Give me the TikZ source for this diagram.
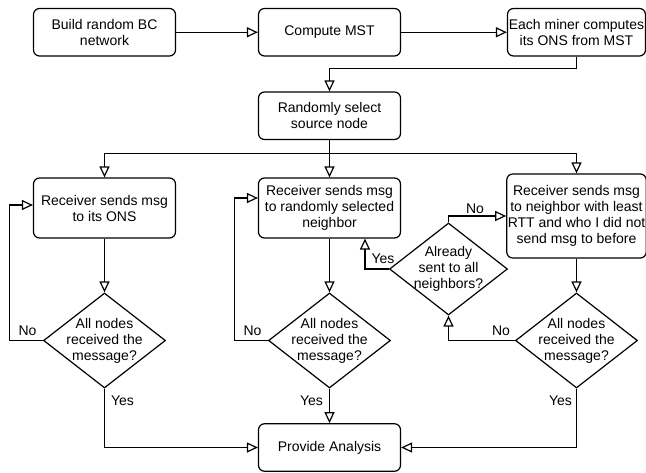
\documentclass[tikz,border=0pt]{standalone}
\usepackage{fontspec}
\setmainfont{Liberation Sans}
\usetikzlibrary{arrows.meta,shapes.geometric}

\begin{document}
\begin{tikzpicture}[x=1pt,y=-1pt,
  every node/.style={font=\fontsize{14}{16}\selectfont},
  stepbox/.style={draw, rounded corners=6pt, line width=1.2pt, align=center,
    inner sep=1pt, minimum width=142pt, minimum height=47.5pt},
  decision/.style={draw, diamond, line width=1.2pt, inner sep=0pt,
    minimum width=122pt, minimum height=95pt},
  arr/.style={line width=1.2pt, -{Triangle[open,length=11pt,width=10pt]}}]

\useasboundingbox (0,0) rectangle (646,472);

% process steps
\node[stepbox] (b1) at (104.5,32.25) {Build random BC\\network};
\node[stepbox] (b2) at (329.5,32.25) {Compute MST};
\node[stepbox, minimum width=138pt] (b3) at (576.5,32.25) {Each miner computes\\its ONS from MST};
\node[stepbox] (rs) at (329.5,115.75) {Randomly select\\source node};
\node[stepbox, minimum height=60pt] (l) at (104.5,208) {Receiver sends msg\\to its ONS};
\node[stepbox, minimum height=60pt] (m) at (329.5,208) {Receiver sends msg\\to randomly selected\\neighbor};
\node[stepbox, minimum width=138pt, minimum height=84pt] (r) at (576.5,216)
  {Receiver sends msg\\to neighbor with least\\RTT and who I did not\\send msg to before};
\node[stepbox] (pa) at (329.5,447.5) {Provide Analysis};

% decisions
\node[decision, label={[align=center]center:{All nodes\\received the\\message?}}] (d1) at (104.5,340.5) {};
\node[decision, label={[align=center]center:{All nodes\\received the\\message?}}] (d2) at (329.5,340.5) {};
\node[decision, label={[align=center]center:{All nodes\\received the\\message?}}] (d3) at (576.5,340.5) {};
\node[decision, minimum width=118pt, minimum height=92pt,
  label={[align=center]center:{Already\\sent to all\\neighbors?}}] (da) at (448.5,269) {};

% main flow
\draw[arr] (b1) -- (b2);
\draw[arr] (b2) -- (b3);
\draw[arr] (b3.south) -- ++(0,12) -| (rs.north);
\draw[arr] (rs.south) -- (m.north);
\draw[arr] (rs.south) -- ++(0,13) -| (l.north);
\draw[arr] (rs.south) -- ++(0,13) -| (r.north);
\draw[arr] (l) -- (d1);
\draw[arr] (m) -- (d2);
\draw[arr] (r) -- (d3);

% loops back
\draw[arr] (d1.west) -- ++(-33.5,0) |- ([yshift=3pt]l.west);
\draw[arr] (d2.west) -- ++(-33.5,0) |- ([yshift=10pt]m.west);
\draw[arr] (d3.west) -| (da.south);
\draw[arr] (da.north) |- (r.west);
\draw[arr] (da.west) -| ([xshift=35.5pt]m.south);

% to analysis
\draw[arr] (d1.south) |- (pa.west);
\draw[arr] (d2) -- (pa);
\draw[arr] (d3.south) |- (pa.east);

% branch labels
\node (no1) at (27.5,331) {No};
\node (no2) at (252.5,331) {No};
\node (no3) at (501,331) {No};
\node (no4) at (475,209) {No};
\node (yes1) at (383,258.5) {Yes};
\node (yes2) at (122.5,401) {Yes};
\node (yes3) at (311.5,401) {Yes};
\node (yes4) at (560.5,401) {Yes};
\end{tikzpicture}
\end{document}
